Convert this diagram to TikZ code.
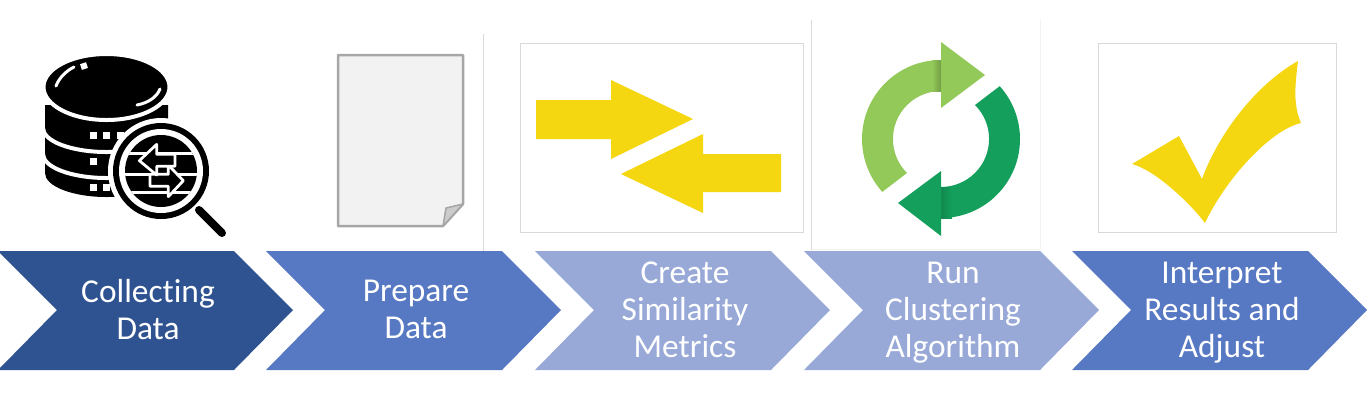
\documentclass[tikz,border=0pt]{standalone}
\usepackage{fontspec}
\setmainfont{Carlito}[Ligatures=NoCommon]
\usetikzlibrary{calc,positioning}
\definecolor{stepdark}{HTML}{2F5391}
\definecolor{stepmid}{HTML}{5778C2}
\definecolor{steplight}{HTML}{98A9D8}
\definecolor{signyellow}{HTML}{F4D611}
\definecolor{looplight}{HTML}{93C958}
\definecolor{loopdark}{HTML}{14A05C}
\tikzset{
  steplabel/.style={text=white,align=center,font=\fontsize{19}{21}\selectfont},
  thinframe/.style={draw=black!15,line width=0.02cm},
  whiteband/.style={draw=white,line width=0.08cm},
  glassarrow/.style={fill=black,draw=white,line width=0.055cm,line join=round}
}
\begin{document}
\begin{tikzpicture}[x=0.02cm,y=-0.02cm]
\useasboundingbox (0,0) rectangle (1372,414);
% chevrons
\foreach \xa/\col in {-2/stepdark,266/stepmid,535/steplight,804/steplight,1072/stepmid}
  \fill[\col] (\xa,251) -- ({\xa+236},251) -- ({\xa+295},310) -- ({\xa+236},370) -- (\xa,370) -- ({\xa+59},310) -- cycle;
% labels
\node[steplabel] (collect) at (148,309.5) {Collecting\\Data};
\node[steplabel] (prepare) at (416,309.5) {Prepare\\Data};
\node[steplabel] (metrics) at (685,310) {Create\\Similarity\\Metrics};
\node[steplabel] (cluster) at (953,313) {Run\\Clustering\\Algorithm};
\node[steplabel] (adjust) at (1222,313) {Interpret\\Results and\\Adjust};
% separators and frames
\draw[black!15,line width=0.02cm] (483,34) -- (483,251) (811.5,20) -- (811.5,250);
\draw[black!5,line width=0.02cm] (811.5,249) -- (1040,249) -- (1040,20);
\draw[thinframe] (520,43) rectangle (803,232);
\draw[thinframe] (1098,43) rectangle (1336,232);
% database
\fill[black] (45,105) -- (45,173) arc[x radius=61.5,y radius=24,start angle=180,end angle=0] -- (168,105) -- cycle;
\draw[whiteband] (43,128) arc[x radius=63.5,y radius=24,start angle=180,end angle=0];
\draw[whiteband] (43,154) arc[x radius=63.5,y radius=24,start angle=180,end angle=0];
\draw[whiteband,fill=black] (106.5,87) ellipse[x radius=63,y radius=33];
\draw[white,line width=0.06cm,line cap=round] (56,86) .. controls (59,78) and (66,71) .. (74,67);
\draw[white,line width=0.12cm] (81,67) -- (87,65);
\draw[white,line width=0.06cm,line cap=round] (137,105) .. controls (148,103) and (157,97) .. (160,89);
\foreach \xa/\ya in {90/132,103/132,117/132,90/158,90/184,103/184} \fill[white] (\xa,\ya) rectangle ({\xa+7},{\ya+7});
% magnifier
\fill[white] (161,171) circle[radius=53];
\fill[black] (161,171) circle[radius=48];
\fill[white] (161,171) circle[radius=42];
\fill[black] (161,171) circle[radius=36];
\draw[black,line width=0.16cm,line cap=round] (199,210) -- (222,233);
\begin{scope}
\clip (161,171) circle[radius=36];
\foreach \ya in {153,174,192} \fill[white] (120,{\ya-1.5}) rectangle (205,{\ya+1.5});
\end{scope}
\begin{scope}[shift={(105,115)},scale=1/3]
\draw[glassarrow] (235,197) -- (190,150) -- (190,178) -- (135,178) -- (135,214) -- (190,214) -- (190,245) -- cycle;
\draw[glassarrow] (103,137) -- (155,88) -- (155,118) -- (210,118) -- (210,154) -- (155,154) -- (155,180) -- cycle;
\end{scope}
% blank page
\draw[black!35,line width=0.05cm,fill=black!5,line join=round] (338,55) -- (463,55) -- (463,204) -- (443,226) -- (338,226) -- cycle;
\draw[black!35,line width=0.03cm,fill=black!20,line join=round] (463,204) -- (446,208) -- (443,226) -- cycle;
% two arrows
\fill[signyellow] (536,100) -- (611,100) -- (611,80) -- (693,119) -- (611,159) -- (611,139) -- (536,139) -- cycle;
\fill[signyellow] (781,154) -- (703,154) -- (703,134) -- (621,174) -- (703,213) -- (703,192) -- (781,192) -- cycle;
% refresh loop
\fill[looplight] (941,60) arc[radius=79,start angle=-90,end angle=-222] -- (907,173) arc[radius=48,start angle=-225,end angle=-90] -- cycle;
\shade[left color=looplight,right color=looplight!78!black] (932,60) rectangle (941,91);
\fill[looplight] (941,42) -- (985,75) -- (941,108) -- cycle;
\fill[loopdark] (941,218) arc[radius=79,start angle=90,end angle=-42] -- (975,105) arc[radius=48,start angle=-45,end angle=90] -- cycle;
\shade[right color=loopdark,left color=loopdark!85!black] (941,187) rectangle (952,218);
\fill[loopdark] (941,171) -- (898,203) -- (941,236) -- cycle;
% check mark
\fill[signyellow] (1132,164) -- (1179,136) -- (1202,179) .. controls (1218,135) and (1255,85) .. (1298,61) .. controls (1295,85) and (1293,105) .. (1301,123) .. controls (1270,130) and (1225,180) .. (1205,223) .. controls (1190,203) and (1155,170) .. (1132,164) -- cycle;
\end{tikzpicture}
\end{document}
